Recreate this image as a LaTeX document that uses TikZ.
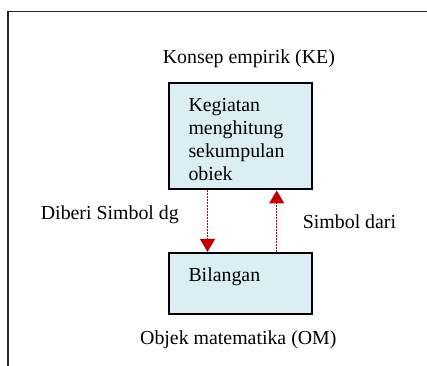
\documentclass[tikz,border=0pt]{standalone}
\usepackage{fontspec}
\setmainfont{Liberation Serif}
\usetikzlibrary{arrows.meta}
\definecolor{boxfill}{HTML}{DAEEF3}
\definecolor{arrred}{HTML}{C00000}
\begin{document}
\begin{tikzpicture}[x=1pt,y=-1pt,
  font=\fontsize{19.85}{22.8}\selectfont,
  frameline/.style={draw=black!85, line width=1.3pt},
  boxnode/.style={draw=black, fill=boxfill, line width=2pt, minimum width=143pt, inner sep=0pt},
  txt/.style={anchor=base west, inner sep=0pt},
  link/.style={draw=arrred, line width=1.4pt, dash pattern=on 1.5pt off 1.5pt,
    -{Triangle[length=13pt,width=15pt]}}
]
\useasboundingbox (0,0) rectangle (427,365);
\draw[frameline] (8,366) -- (8,11.3) -- (428,11.3);
\node[boxnode, minimum height=106.5pt] (ke) at (240.5,136.2) {};
\node[boxnode, minimum height=61.5pt] (bil) at (240.5,283.7) {};
\node[txt, text width=120pt, align=left] (ketext) at (188.3,111.7) {Kegiatan\\menghitung\\sekumpulan\\obiek};
\node[txt] (biltext) at (188.3,281.7) {Bilangan};
\node[txt] (kelabel) at (162.7,63) {Konsep empirik (KE)};
\node[txt] (omlabel) at (140,344) {Objek matematika (OM)};
\node[txt] (diberi) at (40.7,219) {Diberi Simbol dg};
\node[txt] (simbol) at (302.7,228.3) {Simbol dari};
\draw[link] ([xshift=-33pt]ke.south) -- ([xshift=-33pt]bil.north);
\draw[link] ([xshift=36.2pt]bil.north) -- ([xshift=36.2pt]ke.south);
\end{tikzpicture}
\end{document}
